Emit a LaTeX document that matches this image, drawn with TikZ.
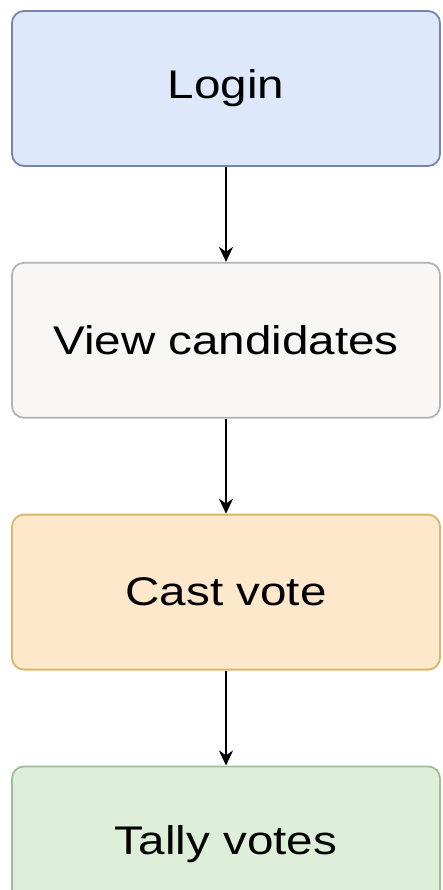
\documentclass[tikz,border=0pt]{standalone}
\usepackage{fontspec}
\setmainfont{Liberation Sans}
\usetikzlibrary{arrows.meta,positioning}

\definecolor{loginfill}{HTML}{DDE8FB}
\definecolor{logindraw}{HTML}{7486B0}
\definecolor{viewfill}{HTML}{F8F7F5}
\definecolor{viewdraw}{HTML}{B4B4B4}
\definecolor{castfill}{HTML}{FDE8CC}
\definecolor{castdraw}{HTML}{D9B668}
\definecolor{tallyfill}{HTML}{DDEFD9}
\definecolor{tallydraw}{HTML}{9FBE98}

\newcommand{\boxtext}[1]{\scalebox{1.19}[1]{#1}}

\begin{document}
\begin{tikzpicture}[>={Stealth[length=15pt,width=14pt]},node distance=95pt,
	stepbox/.style={shape=rectangle,rounded corners=12pt,line width=1.8pt,
		minimum width=428pt,minimum height=155pt,
		font=\fontsize{40}{48}\selectfont}]
	\useasboundingbox (0,0) rectangle (443pt,-890pt);

	\node (login) [stepbox,fill=loginfill,draw=logindraw] at (226pt,-88.5pt) {\boxtext{Login}};
	\node (view) [stepbox,fill=viewfill,draw=viewdraw] [below=of login] {\boxtext{View candidates}};
	\node (cast) [stepbox,fill=castfill,draw=castdraw] [below=of view] {\boxtext{Cast vote}};
	\node (tally) [stepbox,fill=tallyfill,draw=tallydraw] [below=of cast] {\boxtext{Tally votes}};

	\path[->,line width=2pt] (login) edge (view);
	\path[->,line width=2pt] (view) edge (cast);
	\path[->,line width=2pt] (cast) edge (tally);
\end{tikzpicture}
\end{document}
